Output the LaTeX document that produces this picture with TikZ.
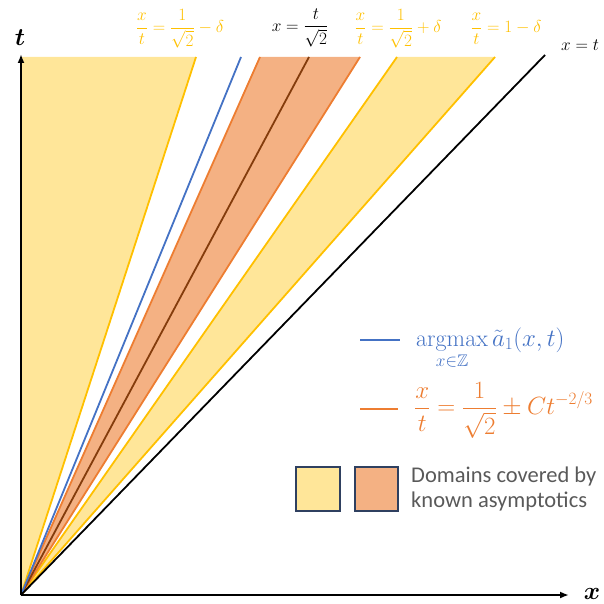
\documentclass[tikz,border=0pt]{standalone}
\usepackage{amsmath,amssymb}
\usepackage{fontspec}
\setsansfont{Carlito}
\usetikzlibrary{arrows.meta}
\definecolor{yfill}{HTML}{FFE699}
\definecolor{yline}{HTML}{FFC000}
\definecolor{ofill}{HTML}{F4B183}
\definecolor{oline}{HTML}{ED7D31}
\definecolor{bline}{HTML}{4472C4}
\definecolor{cbrown}{HTML}{843C0C}
\definecolor{legborder}{HTML}{2F4060}
\definecolor{legtext}{HTML}{595959}
\tikzset{
  ray/.style={line width=1.8pt},
  axisline/.style={line width=2pt, -{Latex[length=9pt,width=7pt]}},
  toplabel/.style={font=\fontsize{17}{20}\selectfont, inner sep=0pt},
  legmath/.style={font=\fontsize{24}{28}\selectfont, inner sep=0pt},
  legbox/.style={draw=legborder, line width=1.2pt},
  axlabel/.style={font=\fontsize{26}{28}\selectfont, inner sep=0pt},
}
\begin{document}
\begin{tikzpicture}[x=1pt,y=-1pt]
\useasboundingbox (0,0) rectangle (603,604);
% key points
\coordinate (O) at (21,595);
\coordinate (ytop) at (21,57);
\coordinate (a1) at (196,57);
\coordinate (b) at (241,57);
\coordinate (o1) at (260,57);
\coordinate (m) at (309,57);
\coordinate (o2) at (360,57);
\coordinate (y1) at (397,57);
\coordinate (y2) at (495,57);
\coordinate (d) at (545,55);
\coordinate (xend) at (569,595);
\coordinate (tend) at (21,54);
% fills
\fill[yfill] (O) -- (ytop) -- (a1) -- cycle;
\fill[yfill] (O) -- (y1) -- (y2) -- cycle;
\fill[ofill] (O) -- (o1) -- (o2) -- cycle;
% rays
\draw[ray, yline] (O) -- (a1);
\draw[ray, yline] (O) -- (y1);
\draw[ray, yline] (O) -- (y2);
\draw[ray, oline] (O) -- (o1);
\draw[ray, oline] (O) -- (o2);
\draw[ray, cbrown] (O) -- (m);
\draw[ray, bline] (O) -- (b);
\draw[ray, black] (O) -- (d);
% axes
\draw[axisline] (O) -- (tend);
\draw[axisline] (O) -- (xend);
\node[axlabel] (tl) at (20,38) {$\boldsymbol{t}$};
\node[axlabel] (xl) at (592,594) {$\boldsymbol{x}$};
% top labels
\node[toplabel, text=yline] (l1) at (180,29) {$\displaystyle\frac{x}{t}=\frac{1}{\sqrt{2}}-\delta$};
\node[toplabel, text=black] (l2) at (300,28) {$\displaystyle x=\frac{t}{\sqrt{2}}$};
\node[toplabel, text=yline] (l3) at (398,29) {$\displaystyle\frac{x}{t}=\frac{1}{\sqrt{2}}+\delta$};
\node[toplabel, text=yline] (l4) at (506,29) {$\displaystyle\frac{x}{t}=1-\delta$};
\node[toplabel, text=black, font=\fontsize{19}{22}\selectfont] (l5) at (580,45) {$x=t$};
% legend
\coordinate (bl1) at (360,340);
\coordinate (bl2) at (400,340);
\draw[ray, bline] (bl1) -- (bl2);
\node[legmath, text=bline, anchor=base west] (lb) at (416,346) {$\displaystyle\operatorname*{argmax}_{x\in\mathbb{Z}}\tilde{a}_1(x,t)$};
\coordinate (ol1) at (360,409);
\coordinate (ol2) at (398,409);
\draw[ray, oline] (ol1) -- (ol2);
\node[legmath, text=oline, anchor=west] (lo) at (414,410) {$\displaystyle\frac{x}{t}=\frac{1}{\sqrt{2}}\pm Ct^{-2/3}$};
\draw[legbox, fill=yfill] (296,467) rectangle (340,511);
\draw[legbox, fill=ofill] (355,467) rectangle (398,511);
\node[anchor=west, align=left, text=legtext, font=\sffamily\fontsize{22.5}{25}\selectfont, inner sep=0pt] (ld) at (411,489) {Domains covered by\\known asymptotics};
\end{tikzpicture}
\end{document}
